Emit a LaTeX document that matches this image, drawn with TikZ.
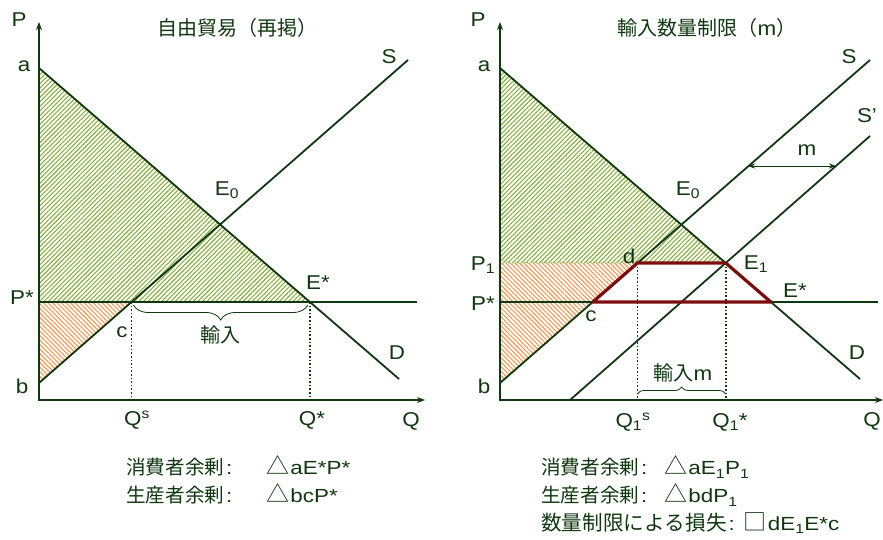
\documentclass[tikz,border=0pt]{standalone}
\usepackage{fontspec}
\setmainfont{Liberation Sans}[FakeStretch=1.12]
\newfontfamily\wlat{Liberation Sans}[FakeStretch=1.18]
\newfontfamily\jp{Noto Sans CJK JP}[Kerning=Off]
\usepackage{tikz}
\usetikzlibrary{arrows.meta, patterns.meta, decorations.pathreplacing}
\definecolor{cLine}{RGB}{16,56,16}
\definecolor{cHatchG}{RGB}{134,176,60}
\definecolor{cHatchO}{RGB}{246,152,84}
\definecolor{cLoss}{RGB}{125,12,12}
\newcommand{\jpsep}[2]{\hspace{2pt}:\hspace{#1}{\jp\fontsize{23}{22}\selectfont #2}\hspace{1pt}}
\tikzset{
	axis/.style   ={line width=2.6pt, cLine, {Stealth[length=8pt,width=6pt]}-{Stealth[length=8pt,width=6pt]}},
	curve/.style  ={line width=1.8pt, cLine},
	pline/.style  ={line width=2.8pt, cLine},
	guide/.style  ={line width=1.6pt, cLine, dotted},
	pguide/.style ={line width=1pt, cHatchG, dotted},
	hatchG/.style ={pattern={Lines[angle=45, distance=3.2pt, line width=1.1pt]}, pattern color=cHatchG},
	hatchO/.style ={pattern={Lines[angle=-45, distance=3.2pt, line width=1.1pt]}, pattern color=cHatchO},
	lbl/.style    ={text=cLine, font=\fontsize{20}{22}\selectfont, inner sep=0pt},
	jlbl/.style   ={text=cLine, font=\jp\fontsize{20}{22}\selectfont, inner sep=0pt},
	txt/.style    ={text=cLine, font=\wlat\fontsize{19}{20}\selectfont, inner sep=0pt, anchor=west},
	brc/.style    ={decorate, decoration={brace, amplitude=#1}, cLine, line width=0.8pt},
	loss/.style   ={line width=3.2pt, cLoss, line join=round},
	marr/.style   ={line width=0.8pt, cLine, {Stealth[length=7pt,width=5pt]}-{Stealth[length=7pt,width=5pt]}},
}
\begin{document}
\begin{tikzpicture}[x=1pt, y=1pt]
\useasboundingbox (0,0) rectangle (883,-540);

% ---- free trade (left)
\coordinate (oL) at (39,-400);
\coordinate (pL) at (39,-22);
\coordinate (qL) at (425,-400);
\coordinate (aL) at (39,-68);
\coordinate (bL) at (39,-383);
\coordinate (psL) at (39,-302);
\coordinate (dL) at (399,-379);
\coordinate (sL) at (408,-60);
\coordinate (peL) at (417,-302);
\coordinate (cL) at (intersection of bL--sL and psL--peL);
\coordinate (esL) at (intersection of aL--dL and psL--peL);
\coordinate (qsL) at (cL |- oL);
\coordinate (qeL) at (esL |- oL);

\fill[hatchG] (aL) -- (esL) -- (psL) -- cycle;
\fill[hatchO] (bL) -- (cL) -- (psL) -- cycle;
\draw[curve] (aL) -- (dL);
\draw[curve] (bL) -- (sL);
\draw[pline] (psL) -- (peL);
\draw[guide] (cL) -- (qsL);
\draw[guide] (esL) -- (qeL);
\draw[brc=15pt] ([xshift=-2pt,yshift=-3pt]esL) -- ([xshift=2pt,yshift=-3pt]cL);
\draw[axis] (pL) -- (oL) -- (qL);

\node[jlbl] (titleL) at (237,-28) {自由貿易（再掲）};
\node[lbl] (PL) at (19,-20) {P};
\node[lbl] (aLbl) at (24,-66) {a};
\node[lbl] (SL) at (389,-57) {S};
\node[lbl] (E0L) at (227,-190) {E\textsubscript{0}};
\node[lbl] (PsL) at (22,-298) {P*};
\node[lbl] (EsL) at (318,-283) {E*};
\node[lbl] (cLbl) at (122,-332) {c};
\node[jlbl] (impL) at (220,-335) {輸入};
\node[lbl] (DL) at (397,-353) {D};
\node[lbl] (bLbl) at (22,-386) {b};
\node[lbl] (QsL) at (137,-420) {Q\textsuperscript{s}};
\node[lbl] (QeL) at (312,-420) {Q*};
\node[lbl] (QL) at (411,-421) {Q};
\node[txt] (csL) at (126,-466) {{\jp\fontsize{19.6}{22}\selectfont 消費者余剰}\jpsep{34pt}{△}aE*P*};
\node[txt] (psurL) at (126,-494) {{\jp\fontsize{19.6}{22}\selectfont 生産者余剰}\jpsep{34pt}{△}bcP*};

% ---- quota (right)
\coordinate (oR) at (500,-400);
\coordinate (pR) at (500,-22);
\coordinate (qR) at (883,-400);
\coordinate (aR) at (500,-68);
\coordinate (bR) at (500,-383);
\coordinate (psR) at (500,-302);
\coordinate (dR) at (860,-379);
\coordinate (sR) at (870,-60);
\coordinate (s2a) at (570,-400);
\coordinate (s2b) at (870,-136);
\coordinate (peR) at (878,-302);
\coordinate (E1) at (intersection of aR--dR and s2a--s2b);
\coordinate (p1R) at (oR |- E1);
\coordinate (dpt) at (intersection of bR--sR and p1R--E1);
\coordinate (cR) at (intersection of bR--sR and psR--peR);
\coordinate (esR) at (intersection of aR--dR and psR--peR);
\coordinate (q1s) at (dpt |- oR);
\coordinate (q1e) at (E1 |- oR);
\coordinate (mA) at (748,-166);
\coordinate (mB) at (836,-166);

\fill[hatchG] (aR) -- (E1) -- (p1R) -- cycle;
\fill[hatchO] (bR) -- (dpt) -- (p1R) -- cycle;
\draw[pguide] (p1R) -- (dpt);
\draw[curve] (aR) -- (dR);
\draw[curve] (bR) -- (sR);
\draw[curve] (s2a) -- (s2b);
\draw[pline] (psR) -- (peR);
\draw[guide] (dpt) -- (q1s);
\draw[guide] (E1) -- (q1e);
\draw[loss] (cR) -- (dpt) -- (E1) -- (esR) -- cycle;
\draw[marr] (mA) -- (mB);
\draw[brc=7pt] ([yshift=6pt]q1s) -- ([yshift=6pt]q1e);
\draw[axis] (pR) -- (oR) -- (qR);

\node[jlbl] (titleR) at (707,-28) {輸入数量制限（{\rmfamily m}）};
\node[lbl] (PR) at (478,-20) {P};
\node[lbl] (aRLbl) at (484,-66) {a};
\node[lbl] (SR) at (849,-57) {S};
\node[lbl] (S2R) at (867,-116) {S’};
\node[lbl] (mLbl) at (807,-150) {m};
\node[lbl] (E0R) at (688,-190) {E\textsubscript{0}};
\node[lbl] (dLbl) at (629,-256) {d};
\node[lbl] (P1R) at (483,-265) {P\textsubscript{1}};
\node[lbl] (E1R) at (756,-264) {E\textsubscript{1}};
\node[lbl] (EsR) at (795,-291) {E*};
\node[lbl] (PsR) at (483,-304) {P*};
\node[lbl] (cRLbl) at (591,-316) {c};
\node[lbl] (DR) at (857,-353) {D};
\node[jlbl] (impR) at (683,-373) {輸入{\rmfamily m}};
\node[lbl] (bRLbl) at (484,-386) {b};
\node[lbl] (Q1sR) at (633,-422) {Q\textsubscript{1}\textsuperscript{s}};
\node[lbl] (Q1eR) at (730,-422) {Q\textsubscript{1}*};
\node[lbl] (QR) at (872,-421) {Q};
\node[txt] (csR) at (541,-467) {{\jp\fontsize{19.6}{22}\selectfont 消費者余剰}\jpsep{17pt}{△}aE\textsubscript{1}P\textsubscript{1}};
\node[txt] (psurR) at (541,-495) {{\jp\fontsize{19.6}{22}\selectfont 生産者余剰}\jpsep{17pt}{△}bdP\textsubscript{1}};
\node[txt] (lossR) at (541,-523) {{\jp\fontsize{20.6}{22}\selectfont 数量制限による損失}\jpsep{9pt}{□}dE\textsubscript{1}E*c};
\end{tikzpicture}
\end{document}
